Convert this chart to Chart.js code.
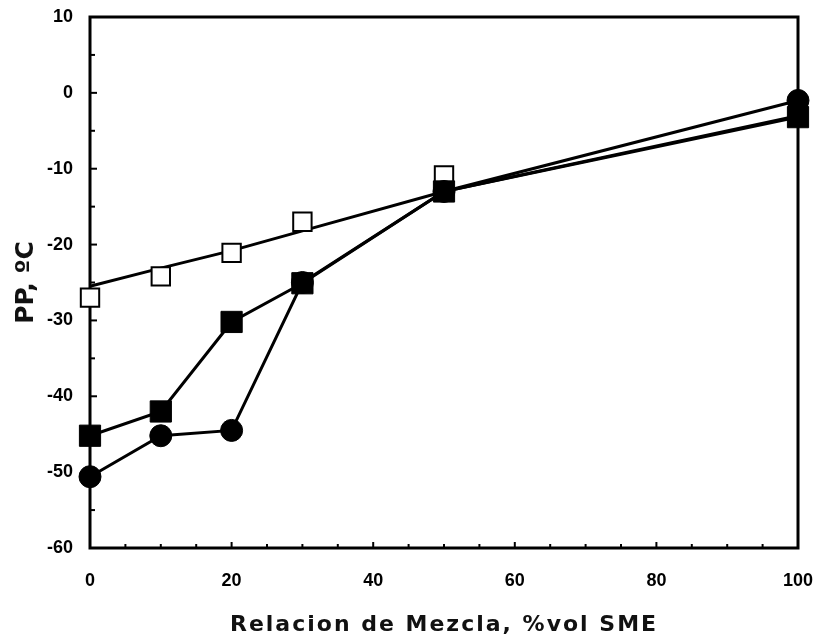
<!DOCTYPE html>
<html>
<head>
<meta charset="utf-8">
<script src="https://cdn.jsdelivr.net/npm/chart.js@4/dist/chart.umd.min.js"></script>
<style>
  html, body { margin: 0; padding: 0; background: #fff; }
  #wrap { width: 817px; height: 639px; }
</style>
</head>
<body>
<div id="wrap"><canvas id="grafico"></canvas></div>
<script>
// Datos
const mezcla = [0, 10, 20, 30, 50, 100];          // %vol SME
const ppCuadroAbierto = [-27, -24.2, -21.1, -17, -10.9, -3];
const ajusteAbierto = [-25.5, -23.1, -20.8, -18.2, -13, -3];
const ppCuadroLleno = [-45.2, -42, -30.2, -25.1, -13, -3.2];
const ppCirculo = [-50.6, -45.2, -44.5, -25, -13, -1];

const X_MIN = 0, X_MAX = 100;
const Y_MIN = -60, Y_MAX = 10;

function puntos(ys) {
    return mezcla.map((x, i) => ({ x, y: ys[i] }));
}

// Marco y marcas hacia adentro
const marcoPlugin = {
    id: 'marco',
    beforeDatasetsDraw(chart) {
        const { ctx, chartArea: a, scales } = chart;
        ctx.save();
        ctx.strokeStyle = '#000';
        ctx.lineWidth = 2;
        for (let v = X_MIN; v <= X_MAX; v += 5) {
            const px = scales.x.getPixelForValue(v);
            const len = v % 20 === 0 ? 6 : 4;
            ctx.beginPath();
            ctx.moveTo(px, a.bottom);
            ctx.lineTo(px, a.bottom - len);
            ctx.stroke();
        }
        for (let v = Y_MIN; v <= Y_MAX; v += 5) {
            const py = scales.y.getPixelForValue(v);
            const len = v % 10 === 0 ? 7 : 5;
            ctx.beginPath();
            ctx.moveTo(a.left, py);
            ctx.lineTo(a.left + len, py);
            ctx.stroke();
        }
        ctx.lineWidth = 3;
        ctx.strokeRect(a.left, a.top, a.right - a.left, a.bottom - a.top);
        ctx.restore();
    }
};

// el título del eje x va más espaciado en el original
function espaciarTitulo(scale, espacio) {
    if (scale._espaciado) return;
    const original = scale.drawTitle;
    scale.drawTitle = function () {
        const ctx = this.ctx;
        ctx.save();
        ctx.letterSpacing = espacio;
        original.apply(this, arguments);
        ctx.restore();
    };
    scale._espaciado = true;
}

const chart = new Chart(document.getElementById('grafico'), {
    type: 'scatter',
    data: {
        datasets: [{
            label: 'Cuadro lleno',
            data: puntos(ppCuadroLleno),
            showLine: true,
            clip: false,
            borderColor: '#000',
            borderWidth: 3,
            pointStyle: 'rect',
            pointRadius: 15,
            pointBackgroundColor: '#000',
            pointBorderColor: '#000',
            pointBorderWidth: 1
        }, {
            label: 'Círculo',
            data: puntos(ppCirculo),
            showLine: true,
            clip: false,
            borderColor: '#000',
            borderWidth: 3,
            pointStyle: 'circle',
            pointRadius: 11,
            pointBackgroundColor: '#000',
            pointBorderColor: '#000',
            pointBorderWidth: 1
        }, {
            label: 'Cuadro abierto',
            data: puntos(ppCuadroAbierto),
            showLine: false,
            clip: false,
            pointStyle: 'rect',
            pointRadius: 13,
            pointBackgroundColor: '#fff',
            pointBorderColor: '#000',
            pointBorderWidth: 2
        }, {
            label: 'Ajuste',
            data: puntos(ajusteAbierto),
            showLine: true,
            clip: false,
            borderColor: '#000',
            borderWidth: 3,
            pointRadius: 0
        }]
    },
    options: {
        responsive: true,
        maintainAspectRatio: false,
        animation: false,
        layout: { padding: { left: 0, top: 17, right: 19, bottom: 0 } },
        plugins: {
            legend: { display: false },
            tooltip: { enabled: false }
        },
        scales: {
            x: {
                type: 'linear',
                min: X_MIN,
                max: X_MAX,
                grid: { display: false, drawTicks: false },
                border: { display: false },
                ticks: {
                    stepSize: 20,
                    padding: 22,
                    color: '#000',
                    font: { family: 'Liberation Sans', size: 18, weight: 'bold' }
                },
                title: {
                    display: true,
                    text: 'Relacion de Mezcla, %vol SME',
                    color: '#111',
                    padding: { top: 0, bottom: 1 },
                    font: { family: 'DejaVu Sans', size: 22, weight: 'bold' }
                },
                afterFit(scale) {
                    scale.height = 91;
                    scale.paddingLeft = 0;
                    scale.paddingRight = 0;
                    espaciarTitulo(scale, '2px');
                }
            },
            y: {
                type: 'linear',
                min: Y_MIN,
                max: Y_MAX,
                grid: { display: false, drawTicks: false },
                border: { display: false },
                ticks: {
                    stepSize: 10,
                    padding: 17,
                    color: '#000',
                    font: { family: 'Liberation Sans', size: 18, weight: 'bold' }
                },
                title: {
                    display: true,
                    text: 'PP, ºC',
                    color: '#111',
                    padding: { top: 11, bottom: 0 },
                    font: { family: 'DejaVu Sans', size: 25, weight: 'bold' }
                },
                afterFit(scale) {
                    scale.width = 90;
                    scale.paddingTop = 0;
                    scale.paddingBottom = 0;
                }
            }
        }
    },
    plugins: [marcoPlugin]
});
</script>
</body>
</html>
